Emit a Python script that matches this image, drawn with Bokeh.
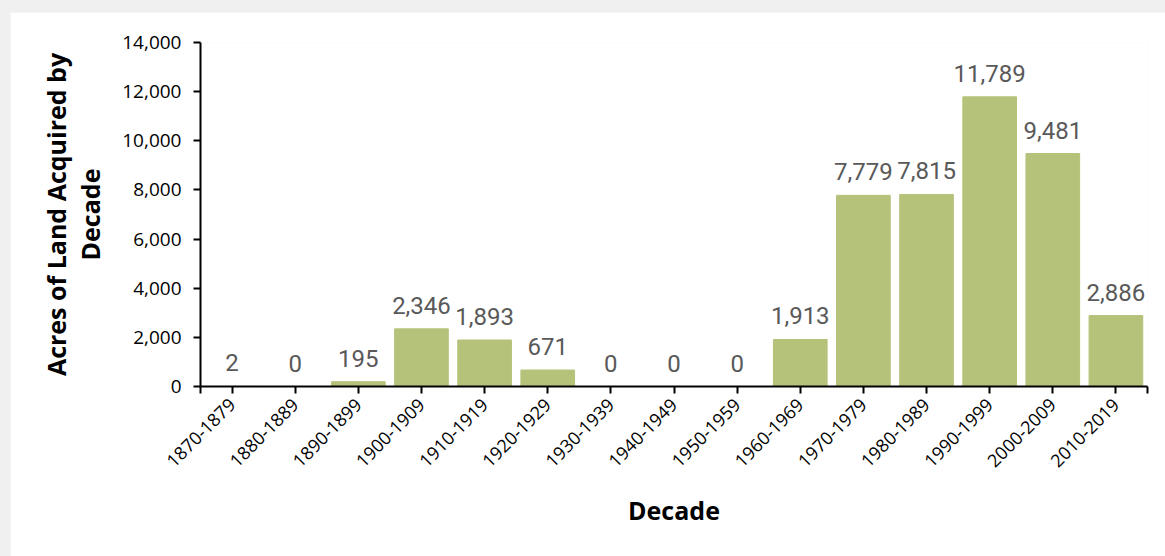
from math import pi
from bokeh.plotting import figure
from bokeh.models import ColumnDataSource, FixedTicker, NumeralTickFormatter, Range1d
from bokeh.layouts import column
from bokeh.embed import file_html
from bokeh.resources import INLINE
from bokeh.core.properties import value

decades = ["1870-1879", "1880-1889", "1890-1899", "1900-1909", "1910-1919",
           "1920-1929", "1930-1939", "1940-1949", "1950-1959", "1960-1969",
           "1970-1979", "1980-1989", "1990-1999", "2000-2009", "2010-2019"]
acres = [2, 0, 195, 2346, 1893, 671, 0, 0, 0, 1913, 7779, 7815, 11789, 9481, 2886]
y_ticks = [0, 2000, 4000, 6000, 8000, 10000, 12000, 14000]

xs = list(range(len(decades)))
labels = [f"{v:,}" for v in acres]
src = ColumnDataSource(dict(x=xs, top=acres, label=labels))

p = figure(width=1155, height=544, output_backend="svg", toolbar_location=None,
           x_range=Range1d(-0.5, len(decades) - 0.5), y_range=Range1d(0, 14000),
           min_border_left=190, min_border_right=18, min_border_top=30, min_border_bottom=170)
p.outline_line_color = None
p.background_fill_color = "white"
p.border_fill_color = "white"
p.xgrid.visible = False
p.ygrid.visible = False

p.vbar(x="x", top="top", bottom=0, width=0.85, source=src, color="#b5c27a")
p.text(x="x", y="top", text="label", source=src, text_align="center",
       text_baseline="bottom", y_offset=-15, text_color="#595959",
       text_font=value("Roboto"), text_font_size="24px")

# x axis
p.xaxis.ticker = FixedTicker(ticks=xs, minor_ticks=[-0.5, len(decades) - 0.5])
p.xaxis.major_label_overrides = {i: d for i, d in enumerate(decades)}
p.xaxis.major_label_orientation = pi / 4
p.xaxis.major_label_text_font = "Open Sans"
p.xaxis.major_label_text_font_size = "18px"
p.xaxis.major_label_text_color = "black"
p.xaxis.major_label_standoff = 8
p.xaxis.major_tick_in = 0
p.xaxis.major_tick_out = 7
p.xaxis.minor_tick_in = 0
p.xaxis.minor_tick_out = 7
p.xaxis.axis_line_width = 2
p.xaxis.major_tick_line_width = 2
p.xaxis.minor_tick_line_width = 2
p.xaxis.axis_label = "Decade"
p.xaxis.axis_label_text_font = "Open Sans"
p.xaxis.axis_label_text_font_style = "bold"
p.xaxis.axis_label_text_font_size = "25px"
p.xaxis.axis_label_text_color = "black"
p.xaxis.axis_label_standoff = 17

# y axis
p.yaxis.ticker = FixedTicker(ticks=y_ticks)
p.yaxis.formatter = NumeralTickFormatter(format="0,0")
p.yaxis.major_label_text_font = "Open Sans"
p.yaxis.major_label_text_font_size = "19px"
p.yaxis.major_label_text_color = "black"
p.yaxis.major_tick_in = 0
p.yaxis.major_tick_out = 7
p.yaxis.minor_tick_line_color = None
p.yaxis.axis_line_width = 2
p.yaxis.major_tick_line_width = 2
p.yaxis.major_label_standoff = 12
p.yaxis.axis_label = "Acres of Land Acquired by\nDecade"
p.yaxis.axis_label_text_font = "Open Sans"
p.yaxis.axis_label_text_font_style = "bold"
p.yaxis.axis_label_text_font_size = "25px"
p.yaxis.axis_label_text_line_height = 1.0
p.yaxis.axis_label_text_color = "black"
p.yaxis.axis_label_standoff = 12

layout = column(p, styles={"background-color": "#f0f0f0", "padding-left": "10px", "padding-top": "12px"})

open("out.html", "w").write(file_html(layout, INLINE))
